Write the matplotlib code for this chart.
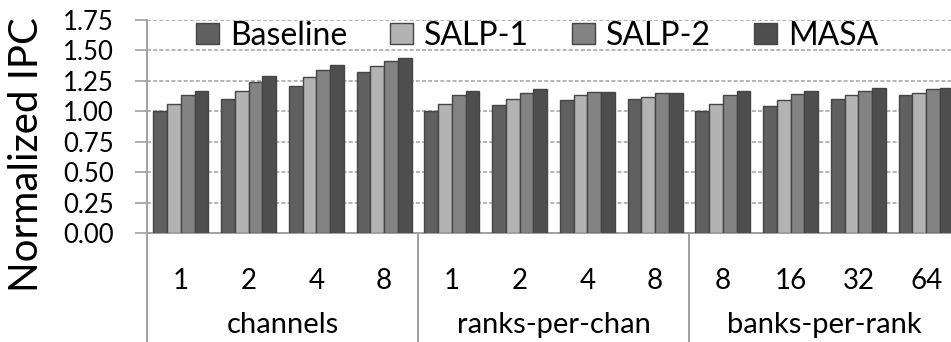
import numpy as np
import matplotlib
matplotlib.use("Agg")
from matplotlib import pyplot as plt

# normalized IPC for each configuration sweep
series = ["Baseline", "SALP-1", "SALP-2", "MASA"]
groups = ["channels", "ranks-per-chan", "banks-per-rank"]
tick_labels = ["1", "2", "4", "8", "1", "2", "4", "8", "8", "16", "32", "64"]

baseline = [1.00, 1.10, 1.21, 1.32, 1.00, 1.05, 1.09, 1.10, 1.00, 1.04, 1.10, 1.13]
salp1 = [1.06, 1.17, 1.28, 1.37, 1.06, 1.10, 1.13, 1.12, 1.06, 1.09, 1.13, 1.15]
salp2 = [1.13, 1.24, 1.34, 1.41, 1.13, 1.15, 1.16, 1.15, 1.13, 1.14, 1.17, 1.18]
masa = [1.17, 1.29, 1.38, 1.44, 1.17, 1.18, 1.16, 1.15, 1.17, 1.17, 1.19, 1.19]

colors = ["#606060", "#b3b3b3", "#838383", "#4e4e4e"]
axis_gray = "#a0a0a0"

plt.rcParams["font.family"] = ["Lato", "DejaVu Sans"]

W, H = 951, 342
fig = plt.figure(figsize=(W / 100, H / 100), dpi=100)
# axes in pixel terms: left 147, bottom at y=233 (from top), top at y=20
ax = fig.add_axes([147 / W, (H - 233) / H, 813 / W, 213 / H])

x = np.arange(len(tick_labels))
width = 0.203
for i, (name, vals) in enumerate(zip(series, [baseline, salp1, salp2, masa])):
    ax.bar(x + (i - 1.5) * width, vals, width, color=colors[i],
           edgecolor="#454545", linewidth=1.0, label=name, zorder=3)

ax.set_xlim(-0.5, len(tick_labels) - 0.5)
ax.set_ylim(0, 1.75)
yt = np.arange(0, 1.76, 0.25)
ax.set_yticks(yt)
ax.set_yticklabels(["%.2f" % v for v in yt], fontsize=18.5)
ax.tick_params(axis="y", direction="out", length=9, width=1.2, color=axis_gray, pad=15)
ax.set_xticks(x)
ax.set_xticklabels(tick_labels, fontsize=20)
ax.tick_params(axis="x", length=0, pad=25)

for v in yt[1:]:
    ax.axhline(v, color=axis_gray, linewidth=1.1, linestyle=(0, (2.6, 1.4)), zorder=1)

for s in ["top", "right"]:
    ax.spines[s].set_visible(False)
for s in ["left", "bottom"]:
    ax.spines[s].set_color(axis_gray)
    ax.spines[s].set_linewidth(1.4)

# group separators and group names below the axis
xt = ax.get_xaxis_transform()
for b in [-0.5, 3.5, 7.5, 11.5]:
    ax.plot([b, b], [0, -0.52], color=axis_gray, linewidth=1.4,
            transform=xt, clip_on=False)
for g, name in enumerate(groups):
    ax.text(g * 4 + 1.5, -100 / 213, name, transform=xt, ha="center",
            va="baseline", fontsize=21)

fig.text(27 / W, 1 - 155 / H, "Normalized IPC", rotation=90, ha="center",
         va="center", fontsize=29)

ax.legend(loc="center left", bbox_to_anchor=((196 - 147) / 813, 1.62 / 1.75),
          ncol=4, frameon=False, fontsize=23, borderpad=0, borderaxespad=0,
          handlelength=0.72, handleheight=0.66, handletextpad=0.34,
          columnspacing=1.35)

fig.savefig("out.png", dpi=100)
